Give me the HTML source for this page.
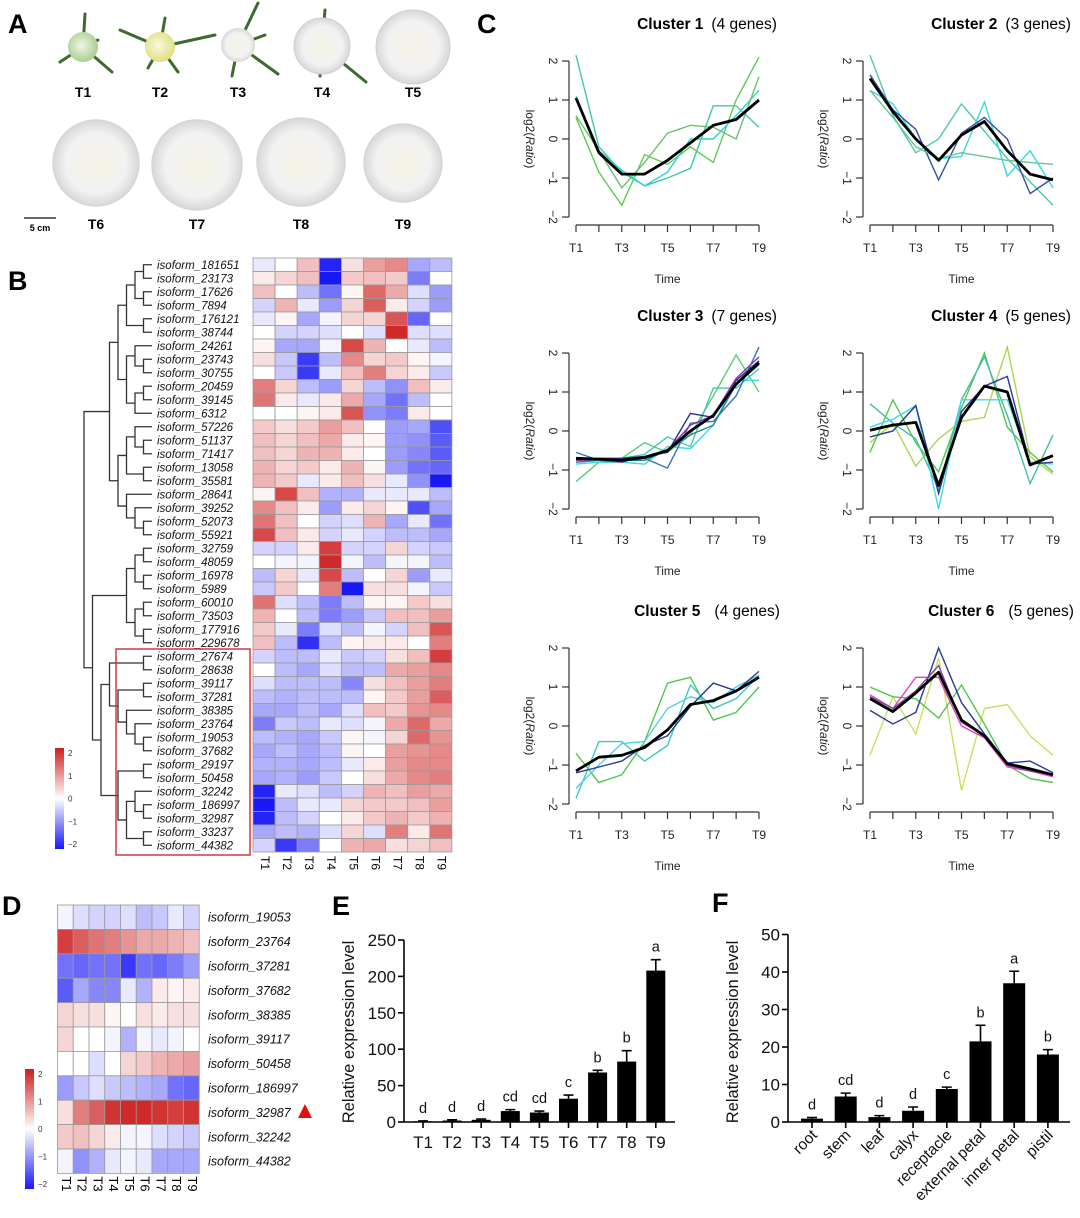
<!DOCTYPE html>
<html><head><meta charset="utf-8">
<style>
html,body{margin:0;padding:0;background:#fff;}
svg{display:block;font-family:"Liberation Sans",Arial,sans-serif;}
</style></head>
<body>
<svg id="fig" width="1080" height="1218" viewBox="0 0 1080 1218" xmlns="http://www.w3.org/2000/svg">
<defs>
<linearGradient id="cbar" x1="0" y1="0" x2="0" y2="1">
<stop offset="0" stop-color="rgb(205,30,30)"/><stop offset="0.5" stop-color="#ffffff"/><stop offset="1" stop-color="rgb(25,25,245)"/>
</linearGradient>
<radialGradient id="petal" cx="0.5" cy="0.5" r="0.5">
<stop offset="0" stop-color="#f4f2e4"/><stop offset="0.7" stop-color="#f2f2f2"/><stop offset="1" stop-color="#d8d8d8"/>
</radialGradient>
<radialGradient id="bud" cx="0.45" cy="0.45" r="0.55">
<stop offset="0" stop-color="#f2f6e8"/><stop offset="1" stop-color="#a8cf90"/>
</radialGradient>
<radialGradient id="bud2" cx="0.45" cy="0.45" r="0.55">
<stop offset="0" stop-color="#fbf8e0"/><stop offset="1" stop-color="#dfe080"/>
</radialGradient>
</defs>
<g id="layer"></g>
</svg>
<script>
// ---------- DATA ----------
var timeLabels = ["T1","T2","T3","T4","T5","T6","T7","T8","T9"];
var heatB_genes = ["181651","23173","17626","7894","176121","38744","24261","23743","30755","20459","39145","6312","57226","51137","71417","13058","35581","28641","39252","52073","55921","32759","48059","16978","5989","60010","73503","177916","229678","27674","28638","39117","37281","38385","23764","19053","37682","29197","50458","32242","186997","32987","33237","44382"];
var heatB_values = [
[-0.2,0,0.6,-2,0.3,0.9,1.1,-0.8,-0.6],
[0.2,0.4,0.6,-2.2,0.5,0.6,0.5,-1.2,0],
[0.6,0,-0.6,-1.3,0.1,1.4,0.8,-0.3,-0.9],
[-0.4,0.7,-0.2,-0.9,0.4,1.5,0.2,-0.4,-0.9],
[-0.2,0.1,-0.8,-0.1,0.4,0.4,1.6,-1.4,0],
[0,-0.4,-0.4,-0.3,0,-0.3,2.0,-0.3,-0.3],
[0.1,-0.8,-0.8,-0.1,1.7,0.7,0,-0.2,-0.6],
[0.3,-0.5,-1.8,-0.6,1.1,0.4,0.5,0.1,-0.1],
[0,-0.5,-1.8,-0.2,0.6,1.2,0.4,0.2,-0.5],
[1.2,0.4,-0.6,-0.9,0.4,-0.6,-1.0,0.6,0.2],
[1.3,0.2,-0.2,0.2,0.8,-0.8,-1.3,-0.6,0],
[0,0,0.1,0.2,1.6,-1.0,-1.2,0.2,0],
[0.5,0.3,0.5,0.9,0.6,0,-0.9,-0.8,-1.6],
[0.6,0.4,0.6,0.8,0.2,0.1,-0.9,-1.0,-1.5],
[0.6,0.4,0.7,0.7,0.2,0,-0.9,-1.1,-1.5],
[0.7,0.4,0.5,0.2,0.7,0.1,-0.9,-1.3,-1.4],
[0.7,0.5,-0.2,0.2,0.6,0.3,-0.2,-1.0,-2.1],
[0.1,1.7,0.6,-0.7,-0.7,-0.2,-0.2,-0.2,-0.6],
[1.1,0.6,0.2,-0.9,0.2,0.4,0.1,-1.6,-0.8],
[1.3,0.6,0,-0.4,-0.3,0.7,-0.8,-0.2,-1.3],
[1.7,0.6,0.2,-0.4,-0.2,-0.4,-0.6,-0.6,-0.8],
[-0.4,-0.4,0.2,1.8,-0.4,-0.4,0.4,-0.4,-0.5],
[0,-0.1,-0.1,2.0,-0.1,-0.6,-0.1,-0.1,-0.6],
[-0.6,0.4,-0.2,1.7,-0.6,0,0.4,-0.9,-0.2],
[-0.5,0.5,0,1.2,-2.1,0.3,0.3,-0.1,-0.5],
[1.3,-0.3,-0.6,-1.2,-0.6,0.1,0.1,0.5,0.3],
[0.7,0,-0.6,-1.2,-0.9,-0.5,0.6,0.6,0.9],
[0.5,-0.2,-1.2,-0.3,-0.6,-0.1,-0.4,0.6,1.6],
[0.6,-0.6,-1.9,-0.6,0.1,0.2,0.2,0,1.2],
[-0.4,-0.6,-0.6,-0.2,-0.5,-0.4,0.3,0.6,1.8],
[0,-0.6,-0.8,-0.3,-0.6,-0.6,0.8,0.9,1.1],
[-0.3,-0.6,-0.6,-0.6,-1.1,0.3,0.6,0.9,1.2],
[-0.6,-0.7,-0.6,-0.6,-0.6,0.1,0.5,0.9,1.5],
[-0.8,-0.8,-0.6,-0.8,-0.3,0.6,0.5,1.0,1.1],
[-1.2,-0.5,-0.6,-0.2,-0.3,-0.1,0.8,1.4,0.8],
[-0.6,-0.7,-0.8,-0.5,0.1,-0.1,0.4,1.4,1.0],
[-0.8,-0.6,-0.8,-0.6,0.1,0,0.9,1.0,1.1],
[-0.7,-0.7,-0.8,-0.6,-0.2,0.2,0.9,1.1,1.1],
[-0.8,-0.7,-0.9,-0.5,0,0.3,0.8,1.1,1.2],
[-2.0,-0.2,-0.3,-0.6,-0.4,0.7,0.6,0.9,0.8],
[-2.2,-0.6,-0.2,-0.2,0.4,0.5,0.5,0.6,0.9],
[-2.0,-0.6,-0.4,0,0.2,0.5,0.7,0.5,0.7],
[-0.8,-0.6,-0.7,-0.3,0.4,-0.3,1.2,0.2,1.3],
[-0.4,-1.8,-1.2,0,0.7,0.8,0.3,0.4,0.6]
];
var heatD_genes = ["19053","23764","37281","37682","38385","39117","50458","186997","32987","32242","44382"];
var heatD_values = [
[-0.1,-0.3,-0.4,-0.4,-0.3,-0.6,-0.5,-0.2,-0.4],
[1.8,1.5,1.3,1.2,1.0,0.8,0.8,0.7,0.6],
[-1.3,-1.4,-1.3,-1.3,-1.8,-1.3,-1.4,-1.2,-0.9],
[-1.5,-0.8,-1.1,-1.1,-0.2,-0.7,0.2,0.1,0.2],
[0.4,0.3,0.3,0.1,0,0.3,0.2,0.3,0.3],
[0.4,0,0,-0.1,-0.7,-0.1,-0.2,-0.1,0],
[0,0,-0.3,0,0.4,0.5,0.7,0.8,0.9],
[-0.9,-0.5,-0.3,-0.5,-0.6,-0.7,-0.8,-1.3,-1.4],
[0.3,1.2,1.5,1.9,2.0,2.0,1.9,1.8,1.9],
[0.5,0.6,0.4,0.2,-0.1,-0.1,-0.3,-0.4,-0.5],
[-0.1,-1.0,-0.7,-0.2,-0.1,-0.2,-0.8,-0.8,-0.8]
];
var clusterTitles = ["Cluster 1","Cluster 2","Cluster 3","Cluster 4","Cluster 5","Cluster 6"];
var clusterCounts = ["(4 genes)","(3 genes)","(7 genes)","(5 genes)","(4 genes)","(5 genes)"];
var clusterMeans = [
[1.05,-0.35,-0.9,-0.9,-0.55,-0.1,0.35,0.5,1.0],
[1.55,0.7,0,-0.55,0.1,0.45,-0.3,-0.9,-1.05],
[-0.7,-0.72,-0.75,-0.68,-0.5,0,0.4,1.2,1.75],
[0.02,0.15,0.22,-1.4,0.35,1.15,1.0,-0.87,-0.63],
[-1.15,-0.8,-0.75,-0.55,-0.1,0.55,0.65,0.9,1.25],
[0.7,0.37,0.85,1.38,0.15,-0.25,-0.97,-1.1,-1.25]
];
var cluster1Genes = [[2.15,-0.2,-0.85,-1.2,-1.0,-0.75,0.85,0.85,0.3],[0.55,-0.85,-1.7,-0.4,-0.65,-0.2,-0.6,1.0,2.1],[1.1,-0.3,-0.8,-1.2,-0.85,0,0,0.6,1.25],[0.6,-0.3,-1.25,-0.6,0.15,0.35,0.3,0,1.6]];
var cluster2Genes = [[2.15,0.6,-0.35,0,0.9,0.2,-0.5,-1.1,-1.7],[1.25,0.9,0,-0.5,-0.45,0.95,-0.95,-0.3,-1.25],[1.65,0.75,0.25,-1.05,0.15,0.55,0,-1.4,-1.0],[1.25,0.55,-0.2,-0.5,-0.35,-0.45,-0.55,-0.6,-0.65]];
var cluster3Genes = [[-1.3,-0.8,-0.7,-0.3,-0.55,-0.1,0.9,1.95,1.0],[-0.8,-0.75,-0.7,-0.6,-0.15,-0.4,1.1,1.1,1.6],[-0.85,-0.8,-0.8,-0.85,-0.4,-0.45,0.15,1.3,1.3],[-0.55,-0.75,-0.7,-0.7,-0.95,0.2,0.25,0.9,2.15],[-0.75,-0.7,-0.7,-0.65,-0.55,0.45,0.35,1.3,1.8],[-0.75,-0.75,-0.8,-0.65,-0.5,0.15,0.4,1.35,1.9],[-0.8,-0.75,-0.75,-0.75,-0.5,-0.1,0.15,1.2,1.7]];
var cluster4Genes = [[-0.3,0.2,-0.9,-0.2,0.25,0.35,2.15,-0.65,-1.1],[-0.55,0.8,-0.3,-1.05,0.6,2.0,0.1,-0.55,-1.05],[0.7,0.2,-0.2,-1.5,0.8,1.9,0.4,-1.35,-0.1],[0.1,0.3,0.65,-2.0,0.8,0.8,0.8,-0.8,-0.85],[-0.15,0,0.65,-1.6,0.5,1.15,1.4,-0.85,-0.8]];
var cluster5Genes = [[-0.7,-1.45,-1.25,-0.4,1.1,1.25,0.15,0.35,1.0],[-1.85,-0.4,-0.4,-0.9,-0.5,1.05,0.45,0.7,1.3],[-1.6,-1.0,-0.45,-0.4,0.45,0.75,0.6,1.0,1.3],[-1.2,-1.05,-0.9,-0.5,-0.25,0.5,1.1,0.9,1.4]];
var cluster6Genes = [[-0.75,0.75,-0.2,1.75,-1.65,0.45,0.55,-0.25,-0.75],[1.0,0.75,0.7,0.2,1.05,0.05,-1.0,-1.35,-1.45],[0.4,0.05,0.35,2.0,0.6,-0.2,-0.95,-0.9,-1.2],[0.8,0.45,1.25,1.25,0,-0.3,-1.05,-1.15,-1.3],[0.75,0.45,0.9,1.55,0.1,-0.25,-1.0,-1.15,-1.25]];
var geneColors = [
["#40c8a8","#5ccc50","#30d0d8","#6cc070"],
["#50c8a0","#38d8e0","#3050a8","#60c890"],
["#58d070","#40c8b0","#40d8e0","#3870c8","#28308a","#9030a0","#208890"],
["#a8d850","#50c850","#40c0a0","#40d8e8","#2a3a90"],
["#50c850","#40c8c0","#50d0e8","#2a3a90"],
["#c8e060","#50c850","#2a3a98","#e040c0","#8040a0"]
];
var barE_categories = ["T1","T2","T3","T4","T5","T6","T7","T8","T9"];
var barE_values = [1,2,3,15,13,32,68,83,208];
var barE_errors = [0.5,1,1,2,2,5,3,15,15];
var barE_letters = ["d","d","d","cd","cd","c","b","b","a"];
var barE_ticks = [0,50,100,150,200,250];
var barF_categories = ["root","stem","leaf","calyx","receptacle","external petal","inner petal","pistil"];
var barF_values = [0.9,6.8,1.3,3.0,8.8,21.5,37,18];
var barF_errors = [0.3,0.9,0.4,1,0.5,4.3,3.2,1.3];
var barF_letters = ["d","cd","d","d","c","b","a","b"];
var barF_ticks = [0,10,20,30,40,50];

// ---------- HELPERS ----------
var NS = "http://www.w3.org/2000/svg";
var root = document.getElementById("layer");
function mk(tag, attrs, parent){
  var e = document.createElementNS(NS, tag);
  for (var k in attrs) e.setAttribute(k, attrs[k]);
  (parent||root).appendChild(e);
  return e;
}
function txt(s, attrs, parent){
  var e = mk("text", attrs, parent);
  e.textContent = s;
  return e;
}
function heatColor(v){
  v = Math.max(-2.2, Math.min(2.2, v));
  var t = Math.min(1, Math.abs(v)/2.1);
  var c = v>=0 ? [205,30,30] : [25,25,245];
  var r = Math.round(255+(c[0]-255)*t), g = Math.round(255+(c[1]-255)*t), b = Math.round(255+(c[2]-255)*t);
  return "rgb("+r+","+g+","+b+")";
}
function panelLetter(s,x,y){
  var e = txt(s,{x:x,y:y,"font-size":27,"font-weight":"bold",fill:"#000"});
  
  
}

// ---------- PANEL A ----------
panelLetter("A",8,33);
panelLetter("B",8,290);
panelLetter("C",477,33);
panelLetter("D",2,915);
panelLetter("E",332,915);
panelLetter("F",712,912);

var budStages = [
 {x:83,y:47,r:15,fill:"url(#bud)",sep:[[85,14],[60,62],[112,72],[98,40]]},
 {x:160,y:47,r:15,fill:"url(#bud2)",sep:[[120,30],[215,35],[165,18],[148,68],[178,72]]},
 {x:238,y:45,r:17,fill:"url(#petal)",sep:[[258,3],[232,76],[278,74],[265,35]]},
 {x:322,y:46,r:28,fill:"url(#petal)",sep:[[325,10],[366,82],[320,76]]},
 {x:413,y:47,r:37,fill:"url(#petal)",sep:[]}
];
var stageGroup = mk("g",{});


budStages.forEach(function(b,i){
  b.sep.forEach(function(s){
    var l = mk("line",{x1:b.x,y1:b.y,x2:s[0],y2:s[1],stroke:"#3e6a30","stroke-width":3,"stroke-linecap":"round"},stageGroup);
    
    
  });
  var c = mk("circle",{cx:b.x,cy:b.y,r:b.r,fill:b.fill,stroke:i>2?"#cfcfcf":"none","stroke-width":1},stageGroup);
  
  
  var t = txt(timeLabels[i],{x:b.x,y:97,"text-anchor":"middle","font-size":14,"font-weight":"bold"},stageGroup);
  
  
});
var bloom = [{x:96,y:163,r:43},{x:197,y:165,r:45},{x:301,y:162,r:44},{x:403,y:163,r:39}];
bloom.forEach(function(b,i){
  var c = mk("circle",{cx:b.x,cy:b.y,r:b.r,fill:"url(#petal)",stroke:"#d6d6d6","stroke-width":1.5},stageGroup);
  
  
  var t = txt(timeLabels[i+5],{x:b.x,y:229,"text-anchor":"middle","font-size":14,"font-weight":"bold"},stageGroup);
  
  
});
var sb = mk("line",{x1:24,y1:218,x2:56,y2:218,stroke:"#333","stroke-width":1.5});


var sbt = txt("5 cm",{x:40,y:231,"text-anchor":"middle","font-size":9,"font-weight":"bold"});



// ---------- PANEL B HEATMAP ----------
var bX0 = 253, bY0 = 258, bW = 22.1, bH = 13.5;
var hb = mk("g",{});


heatB_values.forEach(function(row,i){
  row.forEach(function(v,j){
    var r = mk("rect",{x:bX0+j*bW,y:bY0+i*bH,width:bW,height:bH,fill:heatColor(v),stroke:"#9a9a9a","stroke-width":0.8},hb);
    
    
  });
  var l = txt("isoform_"+heatB_genes[i],{x:157,y:bY0+i*bH+bH/2+4,"font-size":11.5,"font-style":"italic",fill:"#111"},hb);
  
  
});
timeLabels.forEach(function(t,j){
  var cx = bX0+j*bW+bW/2, cy = bY0+44*bH+4;
  var e = txt(t,{x:cx,y:cy,"font-size":12,transform:"rotate(90 "+cx+" "+cy+")","dominant-baseline":"middle"},hb);
  
  
});
// dendrogram
var tree = [[[[[[0,1],[2,3]],[4,5]],[[6,[7,8]],[[9,10],11]]],[[[12,[13,14]],[15,16]],[17,[18,[19,20]]]]],[[[[21,22],[23,24]],[[25,26],[27,28]]],[[[29,30],[[31,32],[33,[34,[35,36]]]]],[[37,38],[[39,[40,41]],[42,43]]]]]];
var dg = mk("g",{stroke:"#333","stroke-width":1.3,fill:"none"});


function drawTree(n){
  if (typeof n === "number") return {y:bY0+n*bH+bH/2, x:152, h:0};
  var a = drawTree(n[0]), b = drawTree(n[1]);
  var h = Math.max(a.h,b.h)+1;
  var x = 152 - h*8.5;
  var p = mk("path",{d:"M"+a.x+","+a.y+"H"+x+"V"+b.y+"H"+b.x},dg);
  
  
  return {y:(a.y+b.y)/2, x:x, h:h};
}
drawTree(tree);
var box = mk("rect",{x:116,y:649,width:134,height:206,fill:"none",stroke:"#d23a3a","stroke-width":1.5});


function colorbar(x,y,w,h,fs){
  var g = mk("g",{});
  
  
  var r = mk("rect",{x:x,y:y,width:w,height:h,fill:"url(#cbar)"},g);
  
  
  [2,1,0,-1,-2].forEach(function(v){
    var ty = y + (2-v)/4*(h-10)+5;
    var t = txt(v<0?"\u2212"+(-v):String(v),{x:x+w+4,y:ty+3,"font-size":fs,fill:"#333"},g);
    
    
  });
}
colorbar(55,748,9,101,8);

// ---------- PANEL C LINE CHARTS ----------
var clusterGenes = [cluster1Genes,cluster2Genes,cluster3Genes,cluster4Genes,cluster5Genes,cluster6Genes];
var colX = [576,870], rowY = [61,353,648];
clusterMeans.forEach(function(mean,ci){
  var x1 = colX[ci%2], x9 = x1+183, y2 = rowY[Math.floor(ci/2)], ym2 = y2+156;
  function sx(i){ return x1 + i*(x9-x1)/8; }
  function sy(v){ return y2 + (2-v)*(ym2-y2)/4; }
  var g = mk("g",{});
  
  
  var cx = x1+131;
  var tt = txt("",{x:cx,y:y2-32,"text-anchor":"middle","font-size":15.5},g);
  
  
  var ts1 = document.createElementNS(NS,"tspan"); ts1.setAttribute("font-weight","bold"); ts1.textContent = clusterTitles[ci]; tt.appendChild(ts1);
  var ts2 = document.createElementNS(NS,"tspan"); ts2.setAttribute("dx", ci>=4?14:8); ts2.textContent = clusterCounts[ci]; tt.appendChild(ts2);
  var ax = x1-7;
  var ya = mk("line",{x1:ax,y1:sy(-2),x2:ax,y2:sy(2),stroke:"#333","stroke-width":1.2},g);
  
  
  [-2,-1,0,1,2].forEach(function(v){
    var tk = mk("line",{x1:ax-7,y1:sy(v),x2:ax,y2:sy(v),stroke:"#333","stroke-width":1.2},g);
    
    
    var lx = ax-17, ly = sy(v);
    var tl = txt(v<0?"\u2212"+(-v):String(v),{x:lx,y:ly,"text-anchor":"middle","font-size":12,fill:"#222",transform:"rotate(90 "+lx+" "+ly+")","dominant-baseline":"middle"},g);
    
    
  });
  var yl = txt("",{x:ax-40,y:(y2+ym2)/2,"text-anchor":"middle","font-size":12,fill:"#222",transform:"rotate(90 "+(ax-40)+" "+((y2+ym2)/2)+")","dominant-baseline":"middle"},g);
  
  
  yl.innerHTML = 'log2(<tspan font-style="italic">Ratio</tspan>)';
  var axY = ym2+8;
  var xa = mk("line",{x1:sx(0),y1:axY,x2:sx(8),y2:axY,stroke:"#333","stroke-width":1.2},g);
  
  
  timeLabels.forEach(function(t,i){
    var tk = mk("line",{x1:sx(i),y1:axY,x2:sx(i),y2:axY+7,stroke:"#333","stroke-width":1.2},g);
    
    
    if (i%2===0){
      var tl = txt(t,{x:sx(i),y:axY+27,"text-anchor":"middle","font-size":12,fill:"#222"},g);
      
      
    }
  });
  var xt = txt("Time",{x:sx(4),y:axY+58,"text-anchor":"middle","font-size":12,fill:"#222"},g);
  
  
  clusterGenes[ci].forEach(function(vals,gi){
    var d = vals.map(function(v,i){return (i?"L":"M")+sx(i).toFixed(1)+","+sy(v).toFixed(1);}).join("");
    var p = mk("path",{d:d,fill:"none",stroke:geneColors[ci][gi],"stroke-width":1.4},g);
    
    
  });
  var dm = mean.map(function(v,i){return (i?"L":"M")+sx(i).toFixed(1)+","+sy(v).toFixed(1);}).join("");
  var pm = mk("path",{d:dm,fill:"none",stroke:"#000","stroke-width":2.8,"stroke-linejoin":"round"},g);
  
  
});

// ---------- PANEL D ----------
var dX0 = 57.5, dY0 = 905, dW = 15.75, dH = 24.4;
var hd = mk("g",{});


heatD_values.forEach(function(row,i){
  row.forEach(function(v,j){
    var r = mk("rect",{x:dX0+j*dW,y:dY0+i*dH,width:dW,height:dH,fill:heatColor(v),stroke:"#9a9a9a","stroke-width":0.8},hd);
    
    
  });
  var l = txt("isoform_"+heatD_genes[i],{x:208,y:dY0+i*dH+dH/2+4.5,"font-size":12.5,"font-style":"italic",fill:"#111"},hd);
  
  
});
timeLabels.forEach(function(t,j){
  var cx = dX0+j*dW+dW/2, cy = dY0+11*dH+3;
  var e = txt(t,{x:cx,y:cy,"font-size":13,transform:"rotate(90 "+cx+" "+cy+")","dominant-baseline":"middle"},hd);
  
  
});
var tri = mk("polygon",{points:"305,1104 298,1118 312,1118",fill:"#e01010"});


colorbar(25,1069,9,120,8);

// ---------- BAR CHARTS ----------
function barChart(opt){
  var g = mk("g",{});
  
  
  function sy(v){ return opt.y0 - v*opt.k; }
  var top = sy(opt.ticks[opt.ticks.length-1]);
  var ya = mk("line",{x1:opt.ax,y1:top,x2:opt.ax,y2:opt.y0,stroke:"#000","stroke-width":1.6},g);
  
  
  var xa = mk("line",{x1:opt.ax,y1:opt.y0,x2:opt.xr,y2:opt.y0,stroke:"#000","stroke-width":1.6},g);
  
  
  opt.ticks.forEach(function(v){
    var tk = mk("line",{x1:opt.ax-6,y1:sy(v),x2:opt.ax,y2:sy(v),stroke:"#000","stroke-width":1.6},g);
    
    
    var tl = txt(String(v),{x:opt.ax-8,y:sy(v)+6,"text-anchor":"end","font-size":17,fill:"#111"},g);
    
    
  });
  var ylx = opt.ax-50, yly = opt.y0-90;
  var yt = txt("Relative expression level",{x:ylx,y:yly,"text-anchor":"middle","font-size":16.5,fill:"#111",transform:"rotate(-90 "+ylx+" "+yly+")"},g);
  
  
  opt.values.forEach(function(v,i){
    var cx = opt.c0 + i*opt.step;
    var b = mk("rect",{x:cx-opt.bw/2,y:sy(v),width:opt.bw,height:opt.y0-sy(v),fill:"#000"},g);
    
    
    var et = sy(v+opt.errs[i]);
    var ev = mk("path",{d:"M"+cx+","+sy(v)+"V"+et+"M"+(cx-5)+","+et+"H"+(cx+5),stroke:"#000","stroke-width":1.6,fill:"none"},g);
    
    
    var tk = mk("line",{x1:cx,y1:opt.y0,x2:cx,y2:opt.y0+6,stroke:"#000","stroke-width":1.6},g);
    
    
    var lt = txt(opt.letters[i],{x:cx,y:et-8,"text-anchor":"middle","font-size":14.5,fill:"#111"},g);
    
    
    var cl;
    if (opt.rot){
      var lx = cx+6, ly = opt.y0+14;
      cl = txt(opt.cats[i],{x:lx,y:ly,"text-anchor":"end","font-size":15.5,fill:"#111",transform:"rotate(-45 "+lx+" "+ly+")"},g);
    } else {
      cl = txt(opt.cats[i],{x:cx,y:opt.y0+26,"text-anchor":"middle","font-size":17,fill:"#111"},g);
    }
    
    
  });
}
barChart({name:"bar-chart-e",ax:404,xr:675,y0:1122,k:182/250,ticks:barE_ticks,values:barE_values,errs:barE_errors,letters:barE_letters,cats:barE_categories,c0:423,step:29.1,bw:19,rot:false});
barChart({name:"bar-chart-f",ax:788,xr:1070,y0:1122,k:187.5/50,ticks:barF_ticks,values:barF_values,errs:barF_errors,letters:barF_letters,cats:barF_categories,c0:812,step:33.7,bw:22,rot:true});
</script>
</body></html>
